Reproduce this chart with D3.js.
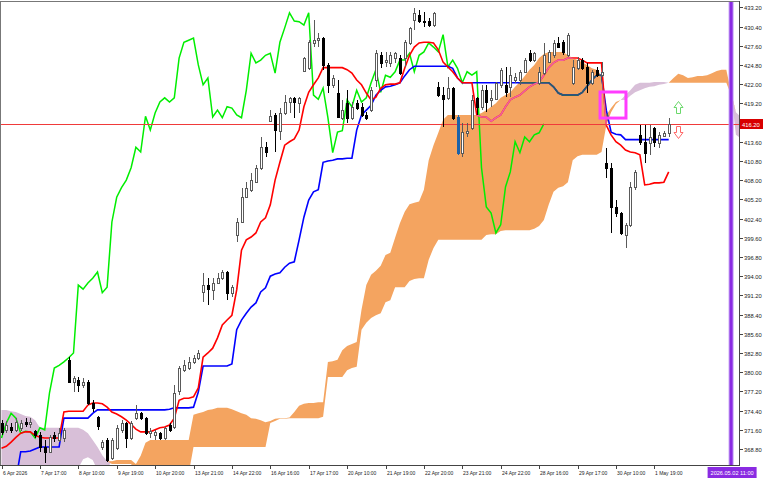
<!DOCTYPE html>
<html><head><meta charset="utf-8">
<script src="https://cdn.jsdelivr.net/npm/d3@7"></script>
<style>html,body{margin:0;padding:0;background:#fff;overflow:hidden}</style>
</head><body><svg id="c" width="768" height="480"></svg>
<script>
const xLabels = ["6 Apr 2026","7 Apr 17:00","8 Apr 10:00","9 Apr 19:00","10 Apr 20:00","13 Apr 21:00","14 Apr 22:00","16 Apr 16:00","17 Apr 17:00","20 Apr 10:00","21 Apr 19:00","22 Apr 20:00","23 Apr 21:00","24 Apr 22:00","28 Apr 16:00","29 Apr 17:00","30 Apr 10:00","1 May 19:00"];
const yTicks = [433.2,430.4,427.6,424.8,422.0,419.2,416.4,413.6,410.8,408.0,405.2,402.4,399.6,396.8,394.0,391.2,388.4,385.6,382.8,380.0,377.2,374.4,371.6,368.8];

const open = [372.6,371.6,372.0,371.6,371.9,372.7,372.4,371.4,370.8,369.1,
368.4,370.8,370.1,370.4,381.8,378.6,378.9,378.1,378.6,375.5,
373.5,369.1,370.1,367.5,368.9,371.6,372.6,370.4,373.3,374.0,
373.3,371.1,370.8,371.1,370.4,372.3,372.0,377.2,380.3,380.6,
381.5,382.1,391.7,392.7,392.0,393.0,393.7,394.6,391.6,400.0,
401.9,405.5,406.6,407.7,409.8,412.8,416.6,417.5,415.2,417.8,
419.4,420.0,419.2,423.9,424.3,428.0,428.4,428.7,424.8,421.9,
420.7,417.1,419.2,417.1,419.2,418.7,417.5,418.2,422.6,426.2,
425.2,425.1,425.8,425.8,425.8,428.0,431.3,432.1,431.2,431.2,
430.6,421.6,420.4,420.0,421.4,417.2,412.0,414.9,415.6,420.0,
418.7,421.1,419.7,419.8,421.9,421.9,421.6,422.6,422.6,423.8,
426.5,425.5,422.2,423.6,425.2,426.2,428.0,428.1,426.2,422.2,
424.3,425.5,424.5,422.2,424.1,423.3,410.5,409.8,404.1,403.2,
400.0,401.5,407.0,414.6,413.6,413.4,415.6,413.4,414.4,414.9];
const high = [373.0,372.9,372.6,373.3,373.0,373.3,373.3,371.6,371.3,370.1,
370.8,371.3,371.9,371.9,382.2,379.4,379.3,379.1,378.9,375.9,
373.6,370.1,370.4,370.4,372.3,373.0,372.7,372.9,375.2,374.2,
373.5,371.9,371.6,371.3,372.0,372.6,378.1,380.9,381.8,382.2,
382.5,383.2,394.5,393.7,393.7,394.5,394.9,394.8,392.7,402.5,
406.9,407.7,409.0,410.2,414.3,413.6,418.2,417.8,418.5,420.4,
420.1,420.1,420.1,425.9,428.4,431.3,429.4,428.9,425.1,423.3,
422.6,419.7,421.1,419.4,419.7,419.2,417.9,421.6,427.0,426.7,
426.7,426.7,426.7,426.2,428.4,430.3,433.1,432.8,432.5,431.6,
432.5,422.3,421.6,423.0,421.6,417.5,416.3,416.3,420.4,420.1,
421.9,421.9,421.1,422.3,424.4,424.5,424.5,423.6,424.1,425.8,
427.0,426.7,424.5,428.0,427.0,428.4,428.9,428.4,429.4,425.5,
425.9,425.8,425.1,424.1,424.5,425.2,412.7,410.5,405.1,403.4,
401.7,407.7,409.5,416.0,416.0,416.0,415.7,415.0,415.2,417.1];
const low = [370.8,371.1,371.1,371.3,371.4,372.0,371.9,370.4,368.4,366.7,
368.2,369.8,369.8,369.8,378.4,377.1,377.1,377.7,375.2,374.2,
371.6,368.6,366.9,367.2,368.6,371.1,368.9,370.1,373.0,373.0,
370.8,370.4,370.1,370.1,370.1,371.3,371.7,376.7,380.0,380.3,
381.2,381.8,390.2,389.8,390.5,392.9,393.4,390.5,391.0,399.0,
401.8,405.5,406.3,407.6,409.5,411.4,416.5,412.1,413.8,417.5,
417.8,417.1,417.8,423.8,424.1,427.4,427.4,424.1,420.7,421.4,
417.1,416.8,416.3,416.8,418.2,417.2,416.8,417.9,421.6,424.3,
424.5,424.5,425.1,423.3,424.5,427.7,429.9,430.9,430.3,430.3,
430.3,420.1,415.7,419.7,416.8,411.7,411.4,414.3,415.3,417.5,
418.2,417.9,418.7,419.7,421.4,420.1,420.1,422.2,421.9,423.6,
425.2,425.2,421.9,423.3,425.1,425.8,427.3,426.2,425.9,421.9,
424.1,424.1,420.7,421.9,423.0,423.0,408.3,400.3,402.6,400.0,
398.1,401.2,406.6,413.1,410.5,411.7,412.8,412.7,414.3,414.3];
const close = [371.3,372.3,371.6,372.7,372.6,372.4,372.7,370.8,369.1,368.4,
370.5,370.4,371.1,371.6,378.6,379.1,378.1,378.6,375.5,374.8,
372.2,369.8,367.2,370.1,371.9,372.6,370.4,372.6,374.0,373.3,
371.1,371.4,371.3,370.4,371.9,371.6,377.0,380.6,381.0,381.5,
382.1,382.8,392.7,392.1,393.0,393.7,394.6,391.6,392.4,401.9,
405.5,406.9,408.0,409.8,412.8,412.1,417.3,415.3,417.8,419.4,
420.0,419.4,420.0,425.8,428.1,428.4,428.7,424.8,421.9,422.9,
417.2,418.2,417.1,418.7,418.5,417.5,417.1,421.1,426.5,425.1,
425.5,426.2,426.5,423.6,428.1,430.2,432.4,431.2,431.1,430.6,
432.4,420.4,419.8,421.4,417.1,412.0,415.0,415.2,419.7,418.7,
421.1,419.4,420.0,422.2,424.1,420.8,423.3,423.0,423.8,425.5,
425.5,426.5,423.8,426.2,426.7,428.0,427.4,426.7,429.2,424.5,
425.5,424.3,422.2,423.8,423.3,423.8,409.8,404.1,403.2,400.3,
401.5,407.0,409.2,413.6,412.0,414.3,413.6,414.6,414.9,416.2];

const tenkan = [368.9,369.2,369.8,370.5,371.1,371.3,371.3,370.8,370.5,370.4,
370.4,370.4,370.4,374.2,374.3,374.3,374.3,374.3,375.2,375.5,
375.5,375.4,374.9,374.2,373.9,373.5,373.0,372.4,371.7,371.3,
371.3,371.3,371.6,371.9,372.0,372.3,373.3,375.9,376.2,376.2,
376.4,377.7,382.2,382.8,383.5,385.0,386.9,387.6,388.3,392.0,
397.8,399.3,399.7,400.3,401.9,402.5,404.4,408.0,410.6,413.1,
413.6,414.0,415.3,418.7,420.8,421.9,422.9,424.4,424.4,424.4,
424.4,424.4,424.1,423.6,422.6,421.9,420.7,419.7,420.1,421.4,
421.9,422.0,422.0,422.2,424.3,426.2,427.4,428.0,428.1,428.1,
428.0,427.0,425.2,424.5,423.8,422.9,422.2,422.2,422.2,417.5,
417.2,417.2,416.6,417.1,417.5,418.7,419.7,420.1,420.4,421.0,
421.6,422.0,422.3,423.3,424.4,425.1,425.5,425.5,425.8,425.8,
425.8,425.5,425.1,425.1,425.1,425.1,416.0,414.6,413.6,413.1,
412.4,412.1,412.0,411.7,407.3,407.4,407.6,407.6,407.7,409.2];
const kijun = [364.3,364.3,364.3,364.3,368.4,368.4,368.5,368.8,369.1,369.1,
369.1,369.1,369.1,373.3,373.3,373.3,373.3,373.3,373.3,374.0,
374.5,374.5,374.5,374.5,374.5,374.5,374.5,374.5,374.5,374.5,
374.5,374.5,374.5,374.5,374.5,374.6,374.8,374.8,374.8,374.8,
374.9,377.1,380.9,380.9,380.9,380.9,380.9,380.9,381.2,386.2,
387.6,388.6,389.5,390.1,391.7,392.3,394.0,394.3,394.5,395.3,
395.9,396.1,399.3,402.6,405.1,406.3,406.6,410.6,410.8,410.9,
411.1,411.1,411.2,411.2,415.3,417.5,418.2,418.9,420.4,421.1,
421.6,421.7,421.9,422.2,423.2,424.1,424.6,424.6,424.6,424.6,
424.6,424.6,424.6,424.6,424.3,422.9,422.2,422.2,422.2,422.2,
422.2,422.2,422.2,422.2,422.2,422.2,422.2,422.2,422.2,422.2,
422.2,422.2,422.2,422.2,422.2,421.6,420.7,420.4,420.4,420.4,
420.4,420.8,421.7,422.6,423.3,423.3,418.2,415.0,414.7,414.6,
413.9,413.9,413.9,413.9,413.9,413.9,413.9,413.9,413.9,413.9];
const spanA = [364.6,364.6,364.6,364.6,364.6,364.6,364.6,364.6,364.6,364.6,
364.6,364.6,364.6,364.6,364.6,364.6,366.0,367.3,367.6,367.2,
365.7,365.2,366.0,367.0,367.2,367.2,367.2,367.2,366.6,367.8,
369.7,370.1,370.1,370.1,370.1,370.1,370.1,370.1,370.1,370.1,
373.8,374.0,374.2,374.5,374.6,374.8,374.8,374.8,374.6,374.3,
374.0,373.8,373.3,373.2,373.0,372.7,372.9,373.2,373.3,373.3,
373.4,374.2,375.1,375.4,375.5,375.5,375.6,375.6,381.5,381.6,
381.8,383.2,383.8,384.1,384.4,389.1,392.7,394.2,394.8,395.5,
397.1,397.4,399.6,401.7,403.4,404.5,404.7,404.9,406.6,410.9,
413.1,414.9,416.8,417.5,417.5,417.5,417.5,417.5,417.5,417.5,
417.8,418.2,418.7,419.2,420.0,420.4,420.8,421.6,422.3,423.2,
424.1,424.8,425.8,426.4,426.7,426.7,426.7,426.7,426.2,425.8,
425.5,425.2,424.8,424.3,424.1,423.3,417.5,418.5,419.4,419.7,
419.7,420.3,420.8,421.1,421.4,421.6,421.7,421.9,422.0,422.2,
422.9,423.5,423.3,422.9,423.0,423.2,423.2,423.3,423.6,423.9,
424.1,424.1,420.8,414.6,414.1];
const spanB = [374.5,374.5,374.3,374.2,373.9,373.6,373.5,373.0,371.9,371.9,
371.9,371.9,371.9,371.9,371.9,371.9,371.9,371.6,371.1,370.1,
369.1,367.9,367.0,366.6,366.6,366.6,366.6,366.6,365.4,365.2,
365.2,365.2,365.2,365.2,365.2,365.2,365.2,365.2,365.2,365.2,
369.1,369.1,369.1,369.1,369.1,369.1,369.1,369.1,369.1,369.1,
369.1,369.1,369.1,369.1,369.1,369.1,372.6,372.9,373.2,373.2,
373.3,373.3,373.3,373.3,373.3,373.3,373.3,373.5,379.3,379.3,
379.3,379.3,380.3,380.6,380.8,386.2,387.2,387.9,388.3,388.6,
390.2,390.5,392.4,392.4,392.4,393.3,393.6,393.7,393.7,396.4,
398.1,399.3,399.3,399.3,399.3,399.3,399.3,399.3,399.3,399.3,
399.3,400.0,400.1,400.1,400.6,400.7,400.7,400.7,400.7,400.7,
400.7,400.9,401.3,402.2,404.4,406.3,406.9,407.1,407.7,410.9,
411.5,411.7,411.7,411.7,411.7,412.1,416.0,417.9,419.1,419.7,
420.4,421.1,421.9,422.2,422.2,422.2,422.3,422.3,422.3,422.2,
422.2,422.2,422.2,422.2,422.2,422.2,422.2,422.2,422.2,422.2,
422.2,422.2,420.4,417.9,417.2];
const chikouShift = 26;
const currentPrice = 416.2;
const highlightBar = 95;
const futureBar = 152;
const futureLabel = "2026.05.02 11:00";
const signalBox = {from: 124.7, to: 130.1, top: 420.85, bottom: 417.05};
const arrows = [{bar: 141, price: 419.5, dir: "up"}, {bar: 141, price: 414.2, dir: "down"}];

const plotL = 0, plotR = 739, plotT = 1, plotB = 465;
const svg = d3.select("#c");
const x = d3.scaleLinear().domain([0, 152]).range([1.5, 731.1]);
const y = d3.scaleLinear().domain([433.2, 368.8]).range([7.3, 449]);

const defs = svg.append("defs");
defs.append("clipPath").attr("id","plot").append("rect")
  .attr("x",plotL).attr("y",plotT).attr("width",plotR-plotL).attr("height",plotB-plotT);

const idxC = d3.range(spanA.length);
const orangeArea = d3.area().x(i=>x(i)).y0(i=>y(spanB[i])).y1(i=>y(Math.max(spanA[i],spanB[i])));
const thistleArea = d3.area().x(i=>x(i)).y0(i=>y(spanA[i])).y1(i=>y(Math.max(spanA[i],spanB[i])));
defs.append("clipPath").attr("id","cloudClip").append("path").attr("d", orangeArea(idxC));

const g = svg.append("g").attr("clip-path","url(#plot)");
g.append("path").attr("d", thistleArea(idxC)).attr("fill","#d8bfd8");
g.append("path").attr("d", orangeArea(idxC)).attr("fill","#f4a460");

const line = d3.line().x((d,i)=>x(i)).y(d=>y(d));
const chikou = d3.range(close.length - chikouShift).map(i => close[i + chikouShift]);

g.append("path").attr("d", line(chikou)).attr("fill","none").attr("stroke","#00ee00").attr("stroke-width",1.5);
g.append("path").attr("d", line(kijun)).attr("fill","none").attr("stroke","#0000ff").attr("stroke-width",1.6);
g.append("path").attr("d", line(tenkan)).attr("fill","none").attr("stroke","#ff0000").attr("stroke-width",1.6);

const gc = g.append("g").attr("clip-path","url(#cloudClip)");
gc.append("path").attr("d", line(kijun)).attr("fill","none").attr("stroke","#2a5f66").attr("stroke-width",1.6);
gc.append("path").attr("d", line(tenkan)).attr("fill","none").attr("stroke","#f0609f").attr("stroke-width",1.6);

// current price line
const yp = Math.round(y(currentPrice)) + 0.5;
g.append("line").attr("x1",plotL).attr("x2",plotR).attr("y1",yp).attr("y2",yp)
  .attr("stroke","#f03a3a").attr("stroke-width",1);
gc.append("line").attr("x1",plotL).attr("x2",plotR).attr("y1",yp).attr("y2",yp)
  .attr("stroke","#c8609a").attr("stroke-width",1);

// candles
const gCandle = g.append("g");
close.forEach((c, i) => {
  const o = open[i];
  const xc = Math.round(x(i));
  const bull = c >= o;
  let col = bull ? "#5a5a5a" : "#000";
  let fill = bull ? "#fff" : "#000";
  if (i === highlightBar) { col = "#1c62a8"; fill = "#1c62a8"; }
  gCandle.append("line").attr("x1",xc+0.5).attr("x2",xc+0.5)
    .attr("y1",Math.round(y(high[i]))).attr("y2",Math.round(y(low[i])))
    .attr("stroke",col).attr("stroke-width",1);
  const yt = Math.round(y(Math.max(o,c)));
  const yb = Math.round(y(Math.min(o,c)));
  gCandle.append("rect").attr("x",xc-0.5).attr("y",yt+0.5)
    .attr("width",2).attr("height",Math.max(yb-yt,1))
    .attr("fill",fill).attr("stroke",col).attr("stroke-width",1);
});

// signal box
g.append("rect").attr("x",x(signalBox.from)).attr("y",y(signalBox.top))
  .attr("width",x(signalBox.to)-x(signalBox.from)).attr("height",y(signalBox.bottom)-y(signalBox.top))
  .attr("fill","none").attr("stroke","#ff3cff").attr("stroke-width",3);

// arrows
arrows.forEach(a => {
  const ax = Math.round(x(a.bar)) + 0.5, ay = Math.round(y(a.price)) + 0.5;
  const s = a.dir === "up" ? 1 : -1;
  const p = `M${ax},${ay} L${ax+4.5},${ay+s*6} L${ax+2},${ay+s*6} L${ax+2},${ay+s*12} L${ax-2},${ay+s*12} L${ax-2},${ay+s*6} L${ax-4.5},${ay+s*6} Z`;
  g.append("path").attr("d",p).attr("fill","#fff")
    .attr("stroke", a.dir==="up" ? "#6ad86a" : "#ff6868").attr("stroke-width",1);
});

// future vertical marker
const xf = x(futureBar);
g.append("line").attr("x1",xf).attr("x2",xf).attr("y1",plotT).attr("y2",plotB)
  .attr("stroke","#c09af5").attr("stroke-width",5);
g.append("line").attr("x1",xf).attr("x2",xf).attr("y1",plotT).attr("y2",plotB)
  .attr("stroke","#8a2be2").attr("stroke-width",3);

// frame
svg.append("line").attr("x1",plotL).attr("x2",plotR).attr("y1",plotT+0.5).attr("y2",plotT+0.5).attr("stroke","#777");
svg.append("line").attr("x1",plotL+0.5).attr("x2",plotL+0.5).attr("y1",plotT).attr("y2",plotB).attr("stroke","#777");
svg.append("line").attr("x1",plotR+0.5).attr("x2",plotR+0.5).attr("y1",plotT).attr("y2",plotB+1).attr("stroke","#444");
svg.append("line").attr("x1",plotL).attr("x2",plotR+1).attr("y1",plotB+0.5).attr("y2",plotB+0.5).attr("stroke","#444");

// y axis (tick labels hidden where the current-price label sits, as in the terminal)
const font = "'Liberation Sans', Arial, sans-serif";
yTicks.forEach(t => {
  const yy = Math.round(y(t)) + 0.5;
  svg.append("line").attr("x1",plotR).attr("x2",plotR+4).attr("y1",yy).attr("y2",yy).attr("stroke","#444");
  if (Math.abs(yy - yp) < 9) return;
  svg.append("text").attr("x",plotR+5).attr("y",yy+2).text(t.toFixed(2))
    .attr("font-family",font).attr("font-size",5.8).attr("fill","#222");
});
svg.append("rect").attr("x",plotR+1).attr("y",yp-5.5).attr("width",23).attr("height",10).attr("fill","#d80000");
svg.append("text").attr("x",plotR+3).attr("y",yp+2).text(currentPrice.toFixed(2))
  .attr("font-family",font).attr("font-size",5.8).attr("fill","#fff");

// x axis
xLabels.forEach((lab, k) => {
  const xx = Math.round(x(k*8)) + 0.5;
  svg.append("line").attr("x1",xx).attr("x2",xx).attr("y1",plotB).attr("y2",plotB+4).attr("stroke","#444");
  svg.append("text").attr("x",xx+0.5).attr("y",plotB+10).text(lab)
    .attr("font-family",font).attr("font-size",5).attr("fill","#222");
});
svg.append("rect").attr("x",xf-23.5).attr("y",plotB+2).attr("width",49).attr("height",11).attr("fill","#8a2be2");
svg.append("text").attr("x",xf+1).attr("y",plotB+10).attr("text-anchor","middle").text(futureLabel)
  .attr("font-family",font).attr("font-size",5.6).attr("fill","#fff");
</script>
</body></html>
